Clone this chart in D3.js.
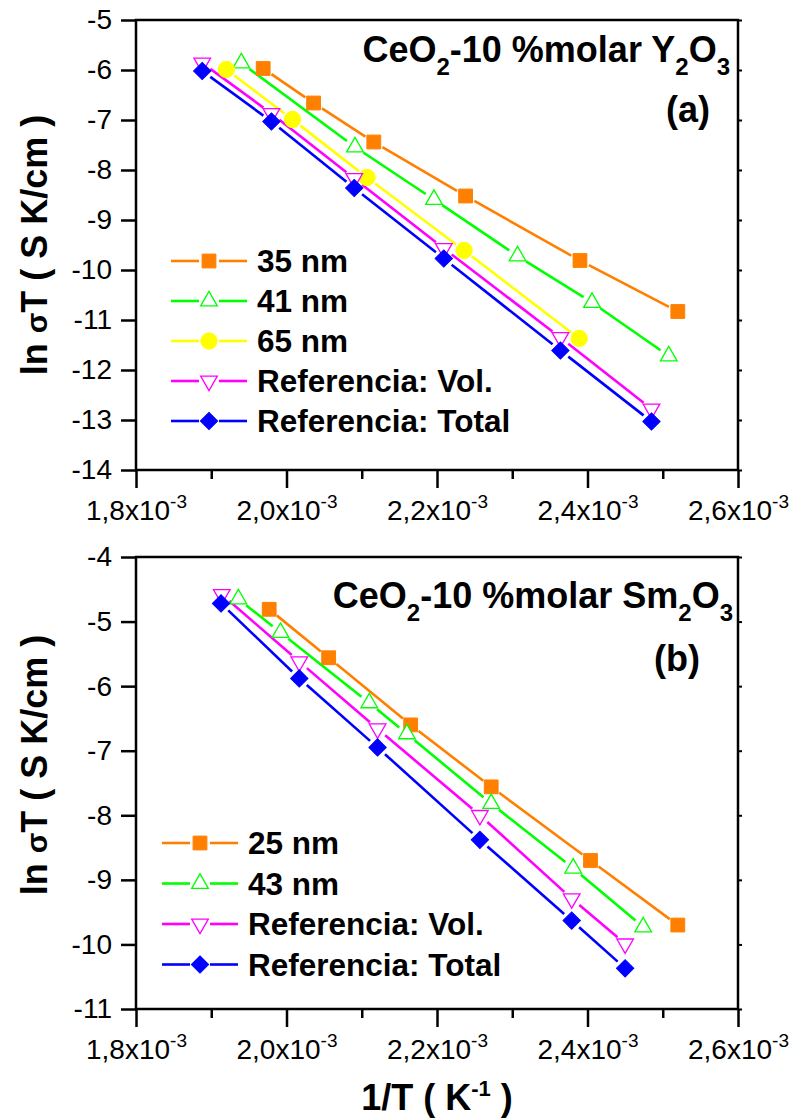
<!DOCTYPE html>
<html>
<head>
<meta charset="utf-8">
<script src="https://cdn.jsdelivr.net/npm/d3@7"></script>
<style>
  body { margin: 0; background: #fff; }
  svg text { font-family: "Liberation Sans", Arial, sans-serif; fill: #000; }
</style>
</head>
<body>
<div id="container"></div>
<script>
// axis ticks
const xTickVals = [1.8e-3, 2.0e-3, 2.2e-3, 2.4e-3, 2.6e-3];
const xTickText = ["1,8", "2,0", "2,2", "2,4", "2,6"];
const yTicksA = [-5, -6, -7, -8, -9, -10, -11, -12, -13, -14];
const yTicksB = [-4, -5, -6, -7, -8, -9, -10, -11];

// panel (a): CeO2-10 %molar Y2O3
const a35X = [1.969e-3, 2.036e-3, 2.116e-3, 2.238e-3, 2.390e-3, 2.520e-3];
const a35Y = [-5.97, -6.66, -7.44, -8.52, -9.81, -10.83];
const a41X = [1.940e-3, 2.091e-3, 2.196e-3, 2.307e-3, 2.406e-3, 2.508e-3];
const a41Y = [-5.86, -7.54, -8.59, -9.72, -10.65, -11.72];
const a65X = [1.920e-3, 2.008e-3, 2.107e-3, 2.236e-3, 2.389e-3];
const a65Y = [-5.99, -6.99, -8.15, -9.61, -11.37];
const aVolX = [1.888e-3, 1.980e-3, 2.090e-3, 2.209e-3, 2.364e-3, 2.485e-3];
const aVolY = [-5.86, -6.87, -8.17, -9.57, -11.35, -12.78];
const aTotX = [1.888e-3, 1.980e-3, 2.090e-3, 2.209e-3, 2.364e-3, 2.485e-3];
const aTotY = [-6.02, -7.03, -8.36, -9.77, -11.61, -13.03];

// panel (b): CeO2-10 %molar Sm2O3
const b25X = [1.977e-3, 2.056e-3, 2.165e-3, 2.272e-3, 2.404e-3, 2.520e-3];
const b25Y = [-4.81, -5.56, -6.60, -7.56, -8.70, -9.70];
const b43X = [1.936e-3, 1.992e-3, 2.110e-3, 2.160e-3, 2.272e-3, 2.381e-3, 2.474e-3];
const b43Y = [-4.65, -5.17, -6.26, -6.74, -7.82, -8.82, -9.73];
const bVolX = [1.914e-3, 2.017e-3, 2.121e-3, 2.257e-3, 2.379e-3, 2.450e-3];
const bVolY = [-4.58, -5.62, -6.66, -8.00, -9.29, -9.99];
const bTotX = [1.913e-3, 2.017e-3, 2.121e-3, 2.257e-3, 2.379e-3, 2.450e-3];
const bTotY = [-4.72, -5.88, -6.95, -8.38, -9.63, -10.37];

const width = 792;
const height = 1118;
const marginLeft = 136;
const marginRight = 738;

const styles = {
  orange: { color: "#FF8000", symbol: d3.symbolSquare, size: 190, fill: true, rotate: 0 },
  green: { color: "#00FF00", symbol: d3.symbolTriangle, size: 120, fill: false, rotate: 0 },
  yellow: { color: "#FFFF00", symbol: d3.symbolCircle, size: 210, fill: true, rotate: 0 },
  pink: { color: "#FF00FF", symbol: d3.symbolTriangle, size: 120, fill: false, rotate: 180 },
  blue: { color: "#0000FF", symbol: d3.symbolSquare, size: 150, fill: true, rotate: 45 }
};

const svg = d3.create("svg")
  .attr("width", width)
  .attr("height", height);

function marker(g, st, cx, cy) {
  g.append("path")
    .attr("d", d3.symbol().type(st.symbol).size(st.size)())
    .attr("transform", `translate(${cx},${cy}) rotate(${st.rotate})`)
    .attr("fill", st.fill ? st.color : "#fff")
    .attr("stroke", st.color)
    .attr("stroke-width", st.fill ? 1 : 1.3);
}

function drawPanel(cfg) {
  const x = d3.scaleLinear()
    .domain([xTickVals[0], xTickVals[xTickVals.length - 1]])
    .range([marginLeft, marginRight]);
  const y = d3.scaleLinear()
    .domain(cfg.yDomain)
    .range([cfg.bottom, cfg.top]);

  const g = svg.append("g");

  // minor x ticks
  g.append("g")
    .attr("transform", `translate(0,${cfg.bottom})`)
    .call(d3.axisBottom(x).tickValues(d3.pairs(xTickVals, (a, b) => (a + b) / 2)).tickSize(9).tickFormat(""))
    .call(s => s.select(".domain").remove())
    .selectAll("line").attr("stroke-width", 2.5);

  // major x ticks
  const xa = g.append("g")
    .attr("transform", `translate(0,${cfg.bottom})`)
    .call(d3.axisBottom(x).tickValues(xTickVals).tickSize(18).tickPadding(12).tickFormat(""));
  xa.select(".domain").remove();
  xa.selectAll("line").attr("stroke-width", 2.5);
  xa.selectAll(".tick text").each(function(d, i) {
    const t = d3.select(this)
      .attr("font-size", 28)
      .attr("font-family", "Liberation Sans, Arial, sans-serif")
      .text(xTickText[i] + "x10");
    t.append("tspan").attr("dy", -12).attr("font-size", 19).text("-3");
  });

  // left y axis
  const ya = g.append("g")
    .attr("transform", `translate(${marginLeft},0)`)
    .call(d3.axisLeft(y).tickValues(cfg.yTicks).tickSize(15).tickPadding(9).tickFormat(d => String(d)));
  ya.select(".domain").remove();
  ya.selectAll("line").attr("stroke-width", 2.5);
  ya.selectAll("text")
    .attr("font-size", 28)
    .attr("font-family", "Liberation Sans, Arial, sans-serif");

  // right y axis, small ticks
  const yr = g.append("g")
    .attr("transform", `translate(${marginRight},0)`)
    .call(d3.axisRight(y).tickValues(cfg.yTicks).tickSize(4).tickFormat(""));
  yr.select(".domain").remove();
  yr.selectAll("line").attr("stroke-width", 2);

  // frame
  g.append("rect")
    .attr("x", marginLeft)
    .attr("y", cfg.top)
    .attr("width", marginRight - marginLeft)
    .attr("height", cfg.bottom - cfg.top)
    .attr("fill", "none")
    .attr("stroke", "#000")
    .attr("stroke-width", 2.5);

  // series: lines with gaps around markers, then markers
  const gap = 10;
  cfg.series.forEach(s => {
    const st = styles[s.style];
    const pts = s.x.map((v, i) => [x(v), y(s.y[i])]);
    d3.pairs(pts).forEach(([p, q]) => {
      const dx = q[0] - p[0], dy = q[1] - p[1];
      const len = Math.hypot(dx, dy);
      if (len <= 2 * gap) return;
      const ux = dx / len, uy = dy / len;
      g.append("line")
        .attr("x1", p[0] + ux * gap).attr("y1", p[1] + uy * gap)
        .attr("x2", q[0] - ux * gap).attr("y2", q[1] - uy * gap)
        .attr("stroke", st.color)
        .attr("stroke-width", 2.6);
    });
  });
  cfg.series.forEach(s => {
    const st = styles[s.style];
    s.x.forEach((v, i) => marker(g, st, x(v), y(s.y[i])));
  });

  // legend
  cfg.series.forEach((s, i) => {
    const st = styles[s.style];
    const ly = cfg.legend.y + i * cfg.legend.step;
    const lx = cfg.legend.x;
    g.append("line")
      .attr("x1", lx).attr("x2", lx + 28).attr("y1", ly).attr("y2", ly)
      .attr("stroke", st.color).attr("stroke-width", 2.6);
    g.append("line")
      .attr("x1", lx + 48).attr("x2", lx + 76).attr("y1", ly).attr("y2", ly)
      .attr("stroke", st.color).attr("stroke-width", 2.6);
    marker(g, st, lx + 38, ly);
    g.append("text")
      .attr("x", lx + 86)
      .attr("y", ly + 11)
      .attr("font-size", 31.5)
      .attr("font-weight", "bold")
      .text(s.name);
  });

  // title with subscripts
  const tt = g.append("text")
    .attr("x", cfg.title.x)
    .attr("y", cfg.title.y)
    .attr("text-anchor", "end")
    .attr("font-size", 36)
    .attr("font-weight", "bold");
  tt.append("tspan").text("CeO");
  tt.append("tspan").attr("dy", 13).attr("font-size", 24).text("2");
  tt.append("tspan").attr("dy", -13).text("-10 %molar " + cfg.title.dopant);
  tt.append("tspan").attr("dy", 13).attr("font-size", 24).text("2");
  tt.append("tspan").attr("dy", -13).text("O");
  tt.append("tspan").attr("dy", 13).attr("font-size", 24).text("3");

  g.append("text")
    .attr("x", cfg.tag.x)
    .attr("y", cfg.tag.y)
    .attr("text-anchor", "end")
    .attr("font-size", 36)
    .attr("font-weight", "bold")
    .text(cfg.tag.text);

  // y axis title
  const yt = g.append("text")
    .attr("transform", `translate(47,${cfg.yTitleY}) rotate(-90)`)
    .attr("text-anchor", "middle")
    .attr("font-size", 36)
    .attr("font-weight", "bold");
  yt.append("tspan").text("ln ");
  yt.append("tspan").attr("font-size", 30).text("σ");
  yt.append("tspan").text("T ( S K/cm )");
}

drawPanel({
  top: 20, bottom: 470, yDomain: [-14, -5], yTicks: yTicksA, yTitleY: 245,
  series: [
    { name: "35 nm", x: a35X, y: a35Y, style: "orange" },
    { name: "41 nm", x: a41X, y: a41Y, style: "green" },
    { name: "65 nm", x: a65X, y: a65Y, style: "yellow" },
    { name: "Referencia: Vol.", x: aVolX, y: aVolY, style: "pink" },
    { name: "Referencia: Total", x: aTotX, y: aTotY, style: "blue" }
  ],
  legend: { x: 171, y: 261, step: 40 },
  title: { x: 730, y: 62, dopant: "Y" },
  tag: { x: 710, y: 122, text: "(a)" }
});

drawPanel({
  top: 557, bottom: 1009, yDomain: [-11, -4], yTicks: yTicksB, yTitleY: 765,
  series: [
    { name: "25 nm", x: b25X, y: b25Y, style: "orange" },
    { name: "43 nm", x: b43X, y: b43Y, style: "green" },
    { name: "Referencia: Vol.", x: bVolX, y: bVolY, style: "pink" },
    { name: "Referencia: Total", x: bTotX, y: bTotY, style: "blue" }
  ],
  legend: { x: 162, y: 843, step: 40.5 },
  title: { x: 733, y: 608, dopant: "Sm" },
  tag: { x: 700, y: 671, text: "(b)" }
});

// x axis title
const xt = svg.append("text")
  .attr("x", 437)
  .attr("y", 1110)
  .attr("text-anchor", "middle")
  .attr("font-size", 36)
  .attr("font-weight", "bold");
xt.append("tspan").text("1/T ( K");
xt.append("tspan").attr("dy", -14).attr("font-size", 22).text("-1");
xt.append("tspan").attr("dy", 14).text(" )");

document.querySelector("#container").appendChild(svg.node());
</script>
</body>
</html>
